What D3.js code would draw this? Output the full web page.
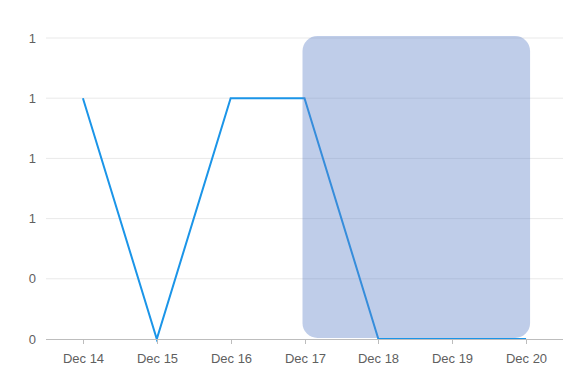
<!DOCTYPE html>
<html>
<head>
<meta charset="utf-8">
<script src="https://cdn.jsdelivr.net/npm/d3@7"></script>
<style>
  html, body { margin: 0; padding: 0; background: #fff; }
  svg text { font-family: "Liberation Sans", Arial, sans-serif; font-size: 13px; fill: #5f5f5f; }
</style>
</head>
<body>
<div id="chart"></div>
<script>
// chart values
const categories = ['Dec 14', 'Dec 15', 'Dec 16', 'Dec 17', 'Dec 18', 'Dec 19', 'Dec 20'];
const seriesValues = [1, 0, 1, 1, 0, 0, 0];
const yTicks = [0, 0.25, 0.5, 0.75, 1, 1.25];
const yTickLabels = ['0', '0', '1', '1', '1', '1'];
const highlightRange = ['Dec 17', 'Dec 20'];

function renderChart() {
    const width = 577, height = 388;
    const margin = { top: 38, right: 14, bottom: 49, left: 46 };

    const svg = d3.select('#chart').append('svg')
        .attr('width', width)
        .attr('height', height);

    const x = d3.scaleBand().domain(categories).range([margin.left, width - margin.right]);
    const y = d3.scaleLinear().domain([0, 1.25]).range([height - margin.bottom, margin.top]);
    const cx = d => x(d) + x.bandwidth() / 2;

    // grid lines
    svg.append('g').selectAll('line').data(yTicks.filter(d => d > 0)).enter().append('line')
        .attr('x1', margin.left).attr('x2', width - margin.right)
        .attr('y1', d => y(d)).attr('y2', d => y(d))
        .attr('stroke', '#e9e9e9').attr('stroke-width', 1);

    // y labels
    svg.append('g').selectAll('text').data(yTicks).enter().append('text')
        .attr('x', 36).attr('y', d => y(d))
        .attr('dy', '0.35em')
        .attr('text-anchor', 'end')
        .text((d, i) => yTickLabels[i]);

    // line
    const line = d3.line().x((d, i) => cx(categories[i])).y(d => y(d));
    svg.append('path').datum(seriesValues)
        .attr('d', line)
        .attr('fill', 'none')
        .attr('stroke', '#1b95e8')
        .attr('stroke-width', 2)
        .attr('stroke-linejoin', 'miter');

    // highlighted range
    const hx0 = cx(highlightRange[0]) - 2;
    const hx1 = cx(highlightRange[1]) + 4;
    svg.append('rect')
        .attr('x', hx0).attr('y', y(1.25) - 2)
        .attr('width', hx1 - hx0)
        .attr('height', y(0) - y(1.25) + 1)
        .attr('rx', 15).attr('ry', 15)
        .attr('fill', 'rgba(95,130,200,0.4)');

    // x axis
    const xAxis = svg.append('g').attr('transform', `translate(0, ${y(0)})`);
    xAxis.append('line')
        .attr('x1', margin.left).attr('x2', width - margin.right)
        .attr('y1', 0.5).attr('y2', 0.5)
        .attr('stroke', '#bdbdbd');
    const ticks = xAxis.selectAll('g.tick').data(categories).enter().append('g')
        .attr('class', 'tick')
        .attr('transform', d => `translate(${Math.round(cx(d)) + 0.5}, 0)`);
    ticks.append('line').attr('y1', 0).attr('y2', 5).attr('stroke', '#bdbdbd');
    ticks.append('text')
        .attr('y', 19).attr('dy', '0.35em')
        .attr('text-anchor', 'middle')
        .text(d => d);
}

renderChart();
</script>
</body>
</html>
